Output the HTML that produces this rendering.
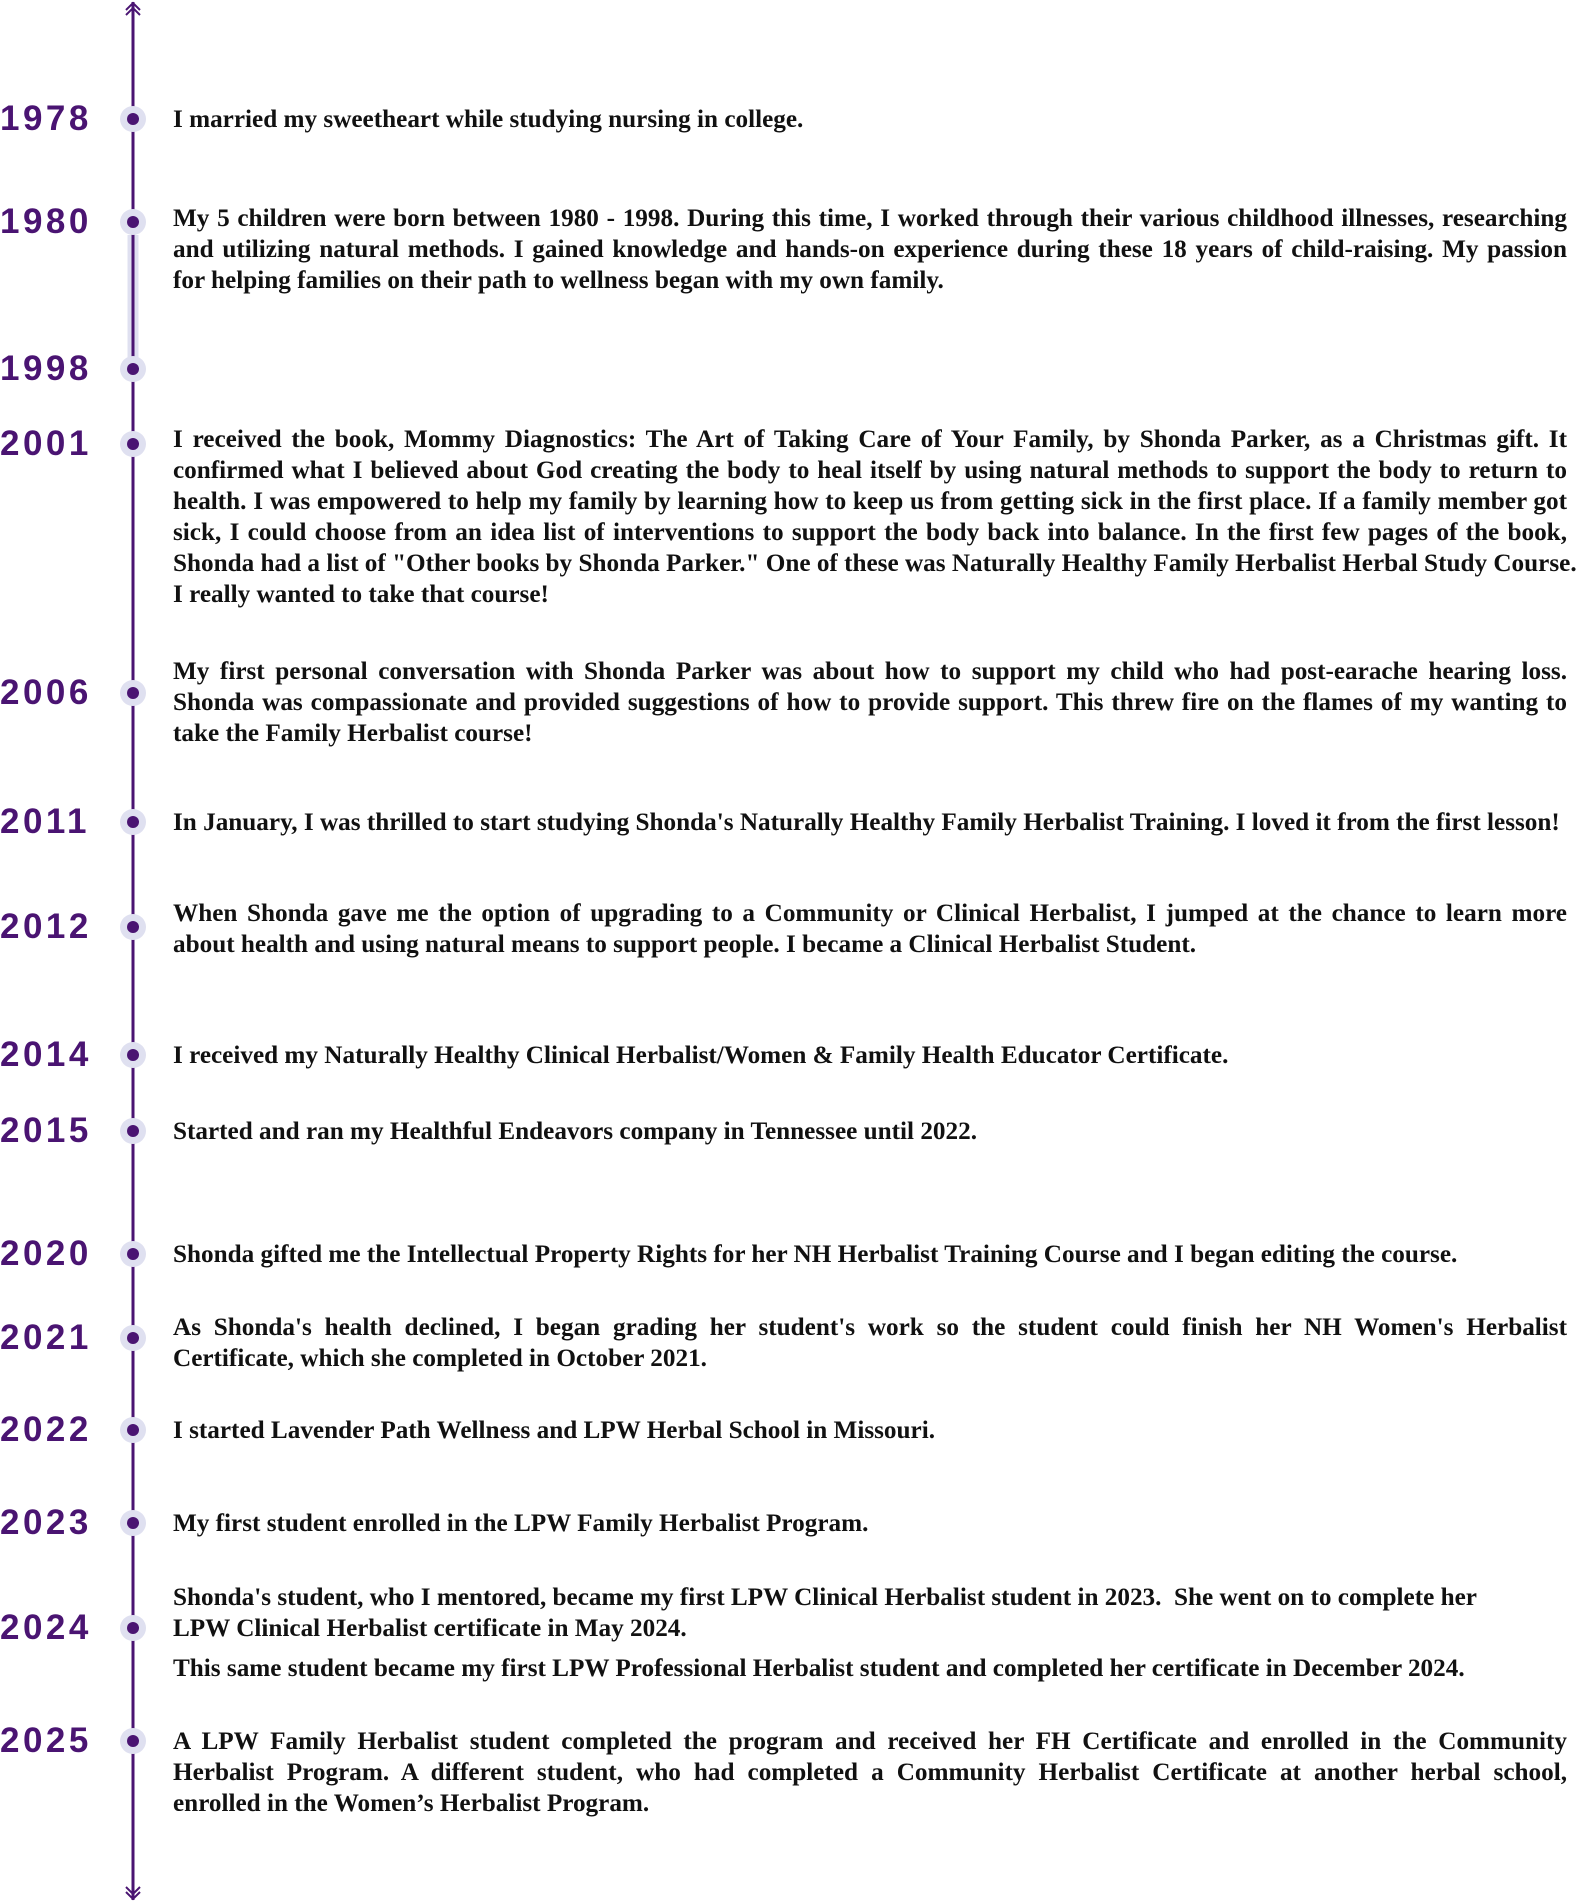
<!DOCTYPE html>
<html><head><meta charset="utf-8"><style>
body{margin:0;width:1578px;height:1902px;background:#fff;position:relative;overflow:hidden}
.yr{position:absolute;left:0;font:bold 35px "Liberation Sans",sans-serif;letter-spacing:3.5px;color:#4a1472;line-height:40px}
.dot{position:absolute;left:120px;width:26px;height:26px;border-radius:50%;background:#dfe0f0}
.dot::after{content:"";position:absolute;left:7px;top:7px;width:12px;height:12px;border-radius:50%;background:#4a1472}
.t{position:absolute;left:173px;width:1394px;font:bold 25.2px "Liberation Serif",serif;color:#111;line-height:31px}
.j{text-align:justify;text-align-last:justify;white-space:nowrap}
.l{white-space:nowrap}
</style></head><body>
<svg style="position:absolute;left:0;top:0" width="1578" height="1902">
<line x1="133" y1="2" x2="133" y2="1900" stroke="#4a1472" stroke-width="3"/>
<line x1="133" y1="235" x2="133" y2="358" stroke="#dfe0f0" stroke-width="11"/>
<line x1="133" y1="235" x2="133" y2="358" stroke="#4a1472" stroke-width="3"/>
<polyline points="126,10 133,3 140,10" fill="none" stroke="#4a1472" stroke-width="2"/>
<polyline points="126,15 133,8 140,15" fill="none" stroke="#4a1472" stroke-width="2"/>
<polyline points="126,1887 133,1894 140,1887" fill="none" stroke="#4a1472" stroke-width="2"/>
<polyline points="126,1892 133,1899 140,1892" fill="none" stroke="#4a1472" stroke-width="2"/>
</svg>

<div class="yr" style="top:99px">1978</div><div class="dot" style="top:106px"></div>
<div class="t" style="top:104px"><div class="l">I married my sweetheart while studying nursing in college.</div></div>

<div class="yr" style="top:202px">1980</div><div class="dot" style="top:209px"></div>
<div class="t" style="top:203px"><div class="j">My 5 children were born between 1980 - 1998. During this time, I worked through their various childhood illnesses, researching</div><div class="j">and utilizing natural methods. I gained knowledge and hands-on experience during these 18 years of child-raising. My passion</div><div class="l">for helping families on their path to wellness began with my own family.</div></div>

<div class="yr" style="top:349px">1998</div><div class="dot" style="top:356px"></div>

<div class="yr" style="top:424px">2001</div><div class="dot" style="top:431px"></div>
<div class="t" style="top:424px"><div class="j">I received the book, Mommy Diagnostics: The Art of Taking Care of Your Family, by Shonda Parker, as a Christmas gift. It</div><div class="j">confirmed what I believed about God creating the body to heal itself by using natural methods to support the body to return to</div><div class="j">health. I was empowered to help my family by learning how to keep us from getting sick in the first place. If a family member got</div><div class="j">sick, I could choose from an idea list of interventions to support the body back into balance. In the first few pages of the book,</div><div class="j">Shonda had a list of "Other books by Shonda Parker." One of these was Naturally Healthy Family Herbalist Herbal Study Course.</div><div class="l">I really wanted to take that course!</div></div>

<div class="yr" style="top:673px">2006</div><div class="dot" style="top:680px"></div>
<div class="t" style="top:656px"><div class="j">My first personal conversation with Shonda Parker was about how to support my child who had post-earache hearing loss.</div><div class="j">Shonda was compassionate and provided suggestions of how to provide support. This threw fire on the flames of my wanting to</div><div class="l">take the Family Herbalist course!</div></div>

<div class="yr" style="top:802px">2011</div><div class="dot" style="top:809px"></div>
<div class="t" style="top:807px"><div class="l">In January, I was thrilled to start studying Shonda's Naturally Healthy Family Herbalist Training. I loved it from the first lesson!</div></div>

<div class="yr" style="top:907px">2012</div><div class="dot" style="top:914px"></div>
<div class="t" style="top:898px"><div class="j">When Shonda gave me the option of upgrading to a Community or Clinical Herbalist, I jumped at the chance to learn more</div><div class="l">about health and using natural means to support people. I became a Clinical Herbalist Student.</div></div>

<div class="yr" style="top:1035px">2014</div><div class="dot" style="top:1042px"></div>
<div class="t" style="top:1040px"><div class="l">I received my Naturally Healthy Clinical Herbalist/Women &amp; Family Health Educator Certificate.</div></div>

<div class="yr" style="top:1111px">2015</div><div class="dot" style="top:1118px"></div>
<div class="t" style="top:1116px"><div class="l">Started and ran my Healthful Endeavors company in Tennessee until 2022.</div></div>

<div class="yr" style="top:1234px">2020</div><div class="dot" style="top:1241px"></div>
<div class="t" style="top:1239px"><div class="l">Shonda gifted me the Intellectual Property Rights for her NH Herbalist Training Course and I began editing the course.</div></div>

<div class="yr" style="top:1318px">2021</div><div class="dot" style="top:1325px"></div>
<div class="t" style="top:1312px"><div class="j">As Shonda's health declined, I began grading her student's work so the student could finish her NH Women's Herbalist</div><div class="l">Certificate, which she completed in October 2021.</div></div>

<div class="yr" style="top:1410px">2022</div><div class="dot" style="top:1417px"></div>
<div class="t" style="top:1415px"><div class="l">I started Lavender Path Wellness and LPW Herbal School in Missouri.</div></div>

<div class="yr" style="top:1503px">2023</div><div class="dot" style="top:1510px"></div>
<div class="t" style="top:1508px"><div class="l">My first student enrolled in the LPW Family Herbalist Program.</div></div>

<div class="yr" style="top:1608px">2024</div><div class="dot" style="top:1615px"></div>
<div class="t" style="top:1582px"><div class="l">Shonda's student, who I mentored, became my first LPW Clinical Herbalist student in 2023.&nbsp; She went on to complete her</div><div class="l">LPW Clinical Herbalist certificate in May 2024.</div></div>
<div class="t" style="top:1653px"><div class="l">This same student became my first LPW Professional Herbalist student and completed her certificate in December 2024.</div></div>

<div class="yr" style="top:1721px">2025</div><div class="dot" style="top:1728px"></div>
<div class="t" style="top:1726px"><div class="j">A LPW Family Herbalist student completed the program and received her FH Certificate and enrolled in the Community</div><div class="j">Herbalist Program. A different student, who had completed a Community Herbalist Certificate at another herbal school,</div><div class="l">enrolled in the Women’s Herbalist Program.</div></div>
</body></html>
